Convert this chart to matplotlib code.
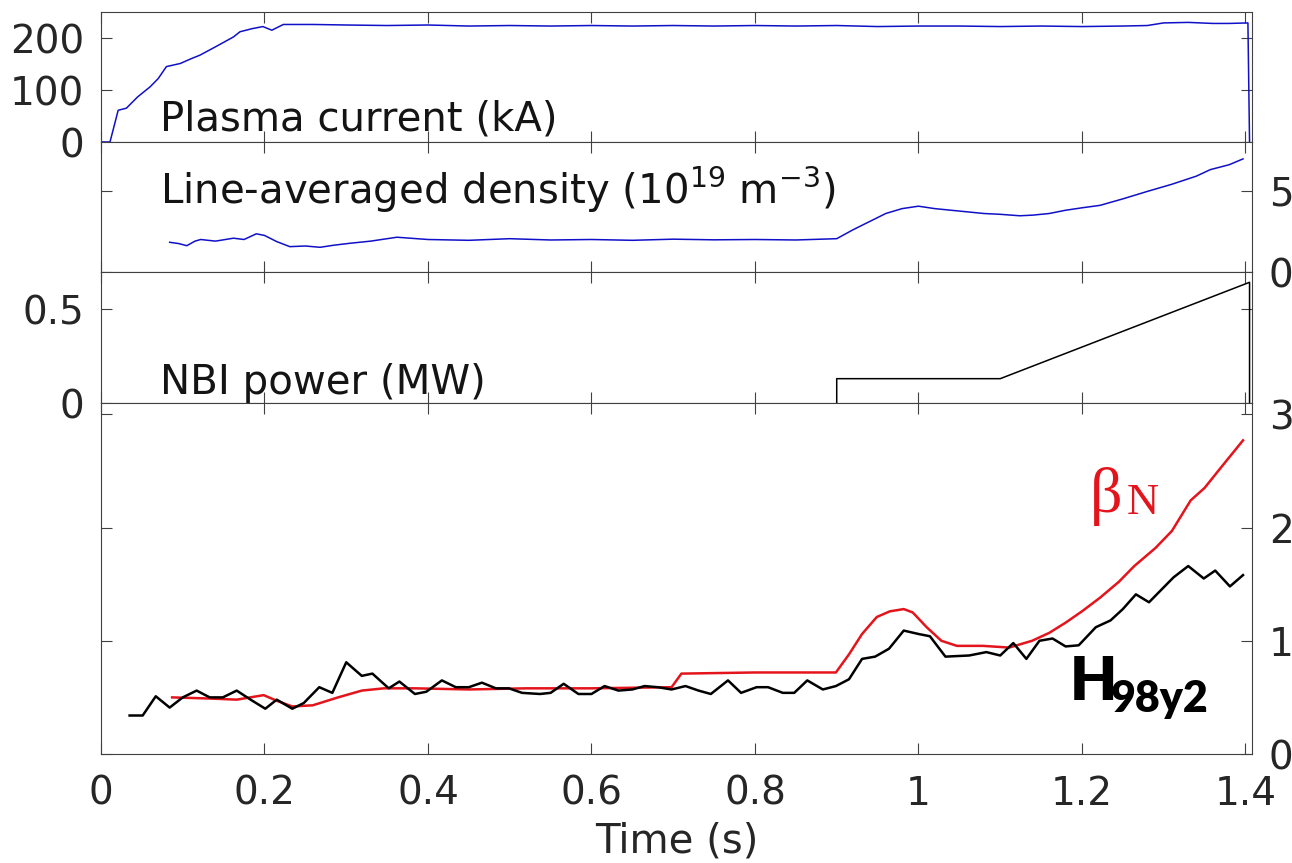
import matplotlib
matplotlib.use('Agg')
import matplotlib.pyplot as plt

# Dados
t_ip = [0, 0.011, 0.021, 0.031, 0.045, 0.06, 0.07, 0.08, 0.097, 0.11, 0.121, 0.14, 0.162,
        0.17, 0.185, 0.198, 0.209, 0.223, 0.26, 0.3, 0.35, 0.4, 0.45, 0.5, 0.55, 0.6,
        0.65, 0.7, 0.75, 0.8, 0.85, 0.9, 0.95, 1.0, 1.05, 1.1, 1.15, 1.2, 1.25, 1.28,
        1.3, 1.33, 1.36, 1.38, 1.403, 1.405]
ip = [0, 0, 61, 65, 87, 106, 122, 145, 151, 160, 167, 183, 202,
      212, 218, 222, 215, 226, 226, 225, 224, 225, 223, 224, 223, 224,
      223, 224, 223, 224, 223, 224, 222, 223, 223, 222, 223, 222, 223, 224,
      229, 230, 228, 228, 229, 0]

t_ne = [0.084, 0.095, 0.105, 0.115, 0.122, 0.14, 0.162, 0.175, 0.19, 0.2, 0.215, 0.231,
        0.25, 0.268, 0.285, 0.305, 0.33, 0.362, 0.4, 0.45, 0.5, 0.55, 0.6, 0.65, 0.7,
        0.75, 0.8, 0.85, 0.9, 0.92, 0.94, 0.96, 0.98, 1.0, 1.02, 1.04, 1.06, 1.08, 1.1,
        1.124, 1.14, 1.16, 1.18, 1.2, 1.222, 1.25, 1.28, 1.31, 1.34, 1.357, 1.38, 1.397]
ne = [1.83, 1.75, 1.62, 1.9, 2.0, 1.9, 2.08, 2.0, 2.35, 2.25, 1.87, 1.56,
      1.6, 1.52, 1.65, 1.77, 1.9, 2.14, 2.0, 1.95, 2.05, 1.97, 2.0, 1.95, 2.02,
      1.98, 2.0, 1.97, 2.05, 2.6, 3.1, 3.6, 3.9, 4.05, 3.9, 3.8, 3.7, 3.6, 3.55,
      3.46, 3.5, 3.6, 3.8, 3.95, 4.1, 4.5, 4.96, 5.4, 5.9, 6.3, 6.6, 6.96]

t_nbi = [0.9, 0.9, 1.1, 1.405, 1.405]
p_nbi = [0, 0.13, 0.13, 0.645, 0]

t_bn = [0.087, 0.133, 0.166, 0.199, 0.215, 0.234, 0.259, 0.29, 0.319, 0.346, 0.384,
        0.45, 0.52, 0.6, 0.698, 0.71, 0.8, 0.899, 0.915, 0.931, 0.949, 0.965, 0.982,
        0.993, 1.01, 1.028, 1.047, 1.079, 1.111, 1.139, 1.16, 1.18, 1.2, 1.222, 1.245,
        1.264, 1.29, 1.31, 1.333, 1.35, 1.37, 1.397]
bn = [0.50, 0.49, 0.48, 0.52, 0.47, 0.42, 0.43, 0.50, 0.56, 0.58, 0.58,
      0.57, 0.58, 0.58, 0.59, 0.71, 0.72, 0.72, 0.88, 1.06, 1.21, 1.26, 1.28,
      1.25, 1.12, 1.0, 0.955, 0.955, 0.94, 1.0, 1.07, 1.16, 1.26, 1.38, 1.52,
      1.66, 1.82, 1.97, 2.24, 2.35, 2.53, 2.77]

t_h = [0.035, 0.051, 0.067, 0.084, 0.1, 0.117, 0.133, 0.149, 0.166, 0.183, 0.201, 0.215,
       0.234, 0.248, 0.267, 0.283, 0.30, 0.319, 0.332, 0.352, 0.365, 0.384, 0.398, 0.417,
       0.434, 0.45, 0.466, 0.483, 0.499, 0.515, 0.537, 0.55, 0.566, 0.584, 0.6, 0.616,
       0.633, 0.65, 0.665, 0.681, 0.698, 0.715, 0.731, 0.746, 0.767, 0.783, 0.802, 0.816,
       0.834, 0.848, 0.864, 0.883, 0.899, 0.915, 0.931, 0.947, 0.964, 0.982, 1.0, 1.014,
       1.033, 1.062, 1.083, 1.1, 1.116, 1.132, 1.148, 1.164, 1.18, 1.196, 1.217, 1.235,
       1.25, 1.266, 1.282, 1.297, 1.312, 1.33, 1.349, 1.363, 1.381, 1.397]
h98 = [0.34, 0.34, 0.51, 0.41, 0.50, 0.56, 0.50, 0.50, 0.56, 0.48, 0.40, 0.48,
       0.40, 0.45, 0.59, 0.54, 0.81, 0.69, 0.71, 0.58, 0.64, 0.53, 0.55, 0.65,
       0.59, 0.59, 0.63, 0.58, 0.58, 0.54, 0.53, 0.54, 0.62, 0.53, 0.53, 0.60,
       0.56, 0.57, 0.60, 0.59, 0.57, 0.60, 0.56, 0.53, 0.65, 0.54, 0.59, 0.59,
       0.54, 0.54, 0.65, 0.57, 0.60, 0.66, 0.84, 0.86, 0.93, 1.09, 1.06, 1.04,
       0.86, 0.87, 0.90, 0.87, 0.98, 0.84, 1.0, 1.02, 0.95, 0.96, 1.12, 1.18,
       1.28, 1.41, 1.34, 1.45, 1.56, 1.66, 1.55, 1.62, 1.48, 1.58]

x_ticks = [0, 0.2, 0.4, 0.6, 0.8, 1.0, 1.2, 1.4]
x_ticklabels = ['0', '0.2', '0.4', '0.6', '0.8', '1', '1.2', '1.4']

AZUL = '#1010c8'
VERMELHO = '#e4141c'
CINZA = '#262626'
FS = 28      # rótulos dos ticks
FS_TXT = 29  # textos dos painéis

plt.rcParams['font.family'] = 'DejaVu Sans'
plt.rcParams['axes.edgecolor'] = '#404040'
plt.rcParams['axes.linewidth'] = 0.8

fig = plt.figure(figsize=(12.92, 8.63), dpi=100)

W, H = 1292, 863
esq = 101 / W
larg = (1252 - 101) / W


def eixo(topo, base):
    return fig.add_axes([esq, 1 - base / H, larg, (base - topo) / H])


ax1 = eixo(12, 142)
ax2 = eixo(142, 272)
ax3 = eixo(272, 403)
ax4 = eixo(403, 754)

for ax in [ax1, ax2, ax3, ax4]:
    ax.set_xlim(0, 1.408)
    ax.set_xticks(x_ticks)
    ax.tick_params(direction='in', top=True, right=True, left=True, bottom=True,
                   length=8, width=0.8, color='#404040', labelsize=FS,
                   labelcolor=CINZA, pad=12)
    ax.tick_params(labelbottom=False)

# 1. Corrente de plasma
ax1.plot(t_ip, ip, color=AZUL, lw=1.1)
ax1.set_ylim(0, 250)
ax1.set_yticks([0, 100, 200])
ax1.text(0.051, 0.17, 'Plasma current (kA)', transform=ax1.transAxes,
         fontsize=FS_TXT, va='center', color='#141414')

# 2. Densidade
ax2.plot(t_ne, ne, color=AZUL, lw=1.1)
ax2.set_ylim(0, 8)
ax2.set_yticks([0, 5])
ax2.tick_params(labelleft=False, labelright=True)
ax2.text(0.051, 0.63, 'Line-averaged density (10$^{19}$ m$^{-3}$)',
         transform=ax2.transAxes, fontsize=FS_TXT, va='center', color='#141414')

# 3. NBI
ax3.plot(t_nbi, p_nbi, color='black', lw=1.1)
ax3.set_ylim(0, 0.7)
ax3.set_yticks([0, 0.5])
ax3.set_yticklabels(['0', '0.5'])
ax3.text(0.051, 0.15, 'NBI power (MW)', transform=ax3.transAxes,
         fontsize=FS_TXT, va='center', color='#141414')

# 4. beta_N e H98
ax4.plot(t_bn, bn, color=VERMELHO, lw=1.8)
ax4.plot(t_h, h98, color='black', lw=1.8)
ax4.set_ylim(0, 3.1)
ax4.set_yticks([0, 1, 2, 3])
ax4.tick_params(labelleft=False, labelright=True, labelbottom=True)
ax4.tick_params(axis='x', pad=15)
ax4.set_xticklabels(x_ticklabels)
ax4.set_xlabel('Time (s)', fontsize=FS_TXT, color=CINZA, labelpad=6)

fig.text(1090 / W, 1 - 512 / H, 'β', fontsize=46, color=VERMELHO,
         family='Liberation Serif', va='baseline')
fig.text(1127 / W, 1 - 514 / H, 'N', fontsize=32, color=VERMELHO,
         family='Liberation Serif', va='baseline')
fig.text(1070 / W, 1 - 700 / H, 'H', fontsize=44, color='black',
         family='Lato', weight='heavy', va='baseline')
fig.text(1111 / W, 1 - 712 / H, '98y2', fontsize=31, color='black',
         family='Lato', weight='heavy', va='baseline')

plt.savefig('out.png', dpi=100)
